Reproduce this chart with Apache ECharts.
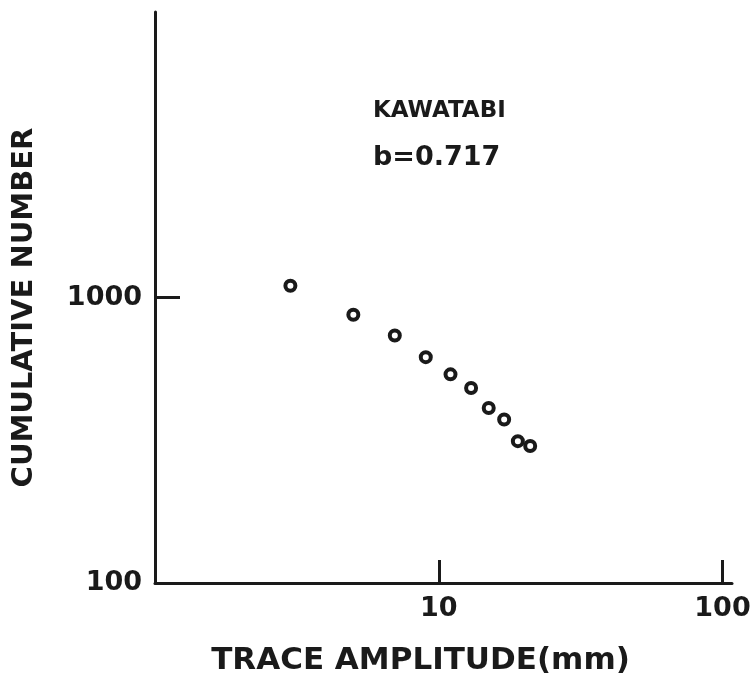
<!DOCTYPE html>
<html>
<head>
    <meta charset="utf-8">
    <title>Kawatabi</title>
    <script src="https://cdn.jsdelivr.net/npm/echarts@6/dist/echarts.min.js"></script>
    <style>
        html, body { margin: 0; padding: 0; background: #fff; }
        #chart { width: 754px; height: 678px; }
    </style>
</head>
<body>
<div id="chart"></div>
<script>
    // (log-log)
    var amplitude = [3, 5, 7, 9, 11, 13, 15, 17, 19, 21];
    var cumulative = [1100, 870, 736, 618, 538, 482, 410, 374, 314, 302];
    var xTickValues = [10, 100];
    var yTickValues = [100, 1000];
    var stationName = 'KAWATABI';
    var bValue = 'b=0.717';

    var ink = '#1a1a1a';
    var font = 'DejaVu Sans';

    var points = [];
    for (var i = 0; i < amplitude.length; i++) {
        points.push([amplitude[i], cumulative[i]]);
    }

    function plain(v) {
        return String(Math.round(v));
    }

    var myChart = echarts.init(document.getElementById('chart'));
    myChart.setOption({
        animation: false,
        backgroundColor: '#fff',
        title: {
            text: stationName,
            subtext: bValue,
            left: 368,
            top: 95,
            itemGap: 21,
            textStyle: {color: ink, fontFamily: font, fontSize: 23, fontWeight: 'bold'},
            subtextStyle: {color: ink, fontFamily: font, fontSize: 27, fontWeight: 'bold'}
        },
        grid: {
            left: 155,
            right: 22,
            top: 12,
            bottom: 95,
            outerBoundsMode: 'none'
        },
        xAxis: {
            type: 'log',
            logBase: 10,
            min: 1,
            max: 108,
            name: 'TRACE AMPLITUDE(mm)',
            nameLocation: 'middle',
            nameGap: 62,
            nameTextStyle: {color: ink, fontFamily: font, fontSize: 31, fontWeight: 'bold', padding: [0, 46, 0, 0]},
            axisLine: {lineStyle: {color: ink, width: 3}},
            axisTick: {inside: true, length: 23, lineStyle: {color: ink, width: 3}, customValues: xTickValues},
            minorTick: {show: false},
            splitLine: {show: false},
            axisLabel: {
                color: ink, fontFamily: font, fontSize: 27, fontWeight: 'bold', margin: 12,
                customValues: xTickValues, formatter: plain
            }
        },
        yAxis: {
            type: 'log',
            logBase: 10,
            min: 100,
            max: 10000,
            name: 'CUMULATIVE NUMBER',
            nameLocation: 'middle',
            nameGap: 116,
            nameTextStyle: {color: ink, fontFamily: font, fontSize: 29, fontWeight: 'bold', padding: [0, 20, 0, 0]},
            axisLine: {lineStyle: {color: ink, width: 3}},
            axisTick: {inside: true, length: 25, lineStyle: {color: ink, width: 3}, customValues: [1000]},
            minorTick: {show: false},
            splitLine: {show: false},
            axisLabel: {
                color: ink, fontFamily: font, fontSize: 27, fontWeight: 'bold', margin: 13,
                customValues: yTickValues, formatter: plain
            }
        },
        series: [{
            type: 'scatter',
            data: points,
            symbol: 'circle',
            symbolSize: 10,
            itemStyle: {color: '#fff', borderColor: ink, borderWidth: 4, opacity: 1}
        }]
    });
</script>
</body>
</html>
